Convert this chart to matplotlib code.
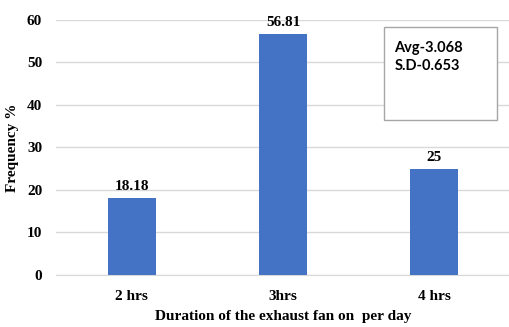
import matplotlib
matplotlib.use("Agg")
import matplotlib.pyplot as plt
from matplotlib.patches import Rectangle

categories = ["2 hrs", "3hrs", "4 hrs"]
frequency = [18.18, 56.81, 25]
value_labels = ["18.18", "56.81", "25"]
stats_lines = ["Avg-3.068", "S.D-0.653"]

serif = "Liberation Serif"
bar_color = "#4472C4"

fig = plt.figure(figsize=(5.10, 3.27), dpi=100)
ax = fig.add_axes([0.110, 0.159, 0.890, 0.780])

x = list(range(len(categories)))
ax.bar(x, frequency, width=0.316, color=bar_color, zorder=3)
for xi, v, lab in zip(x, frequency, value_labels):
    ax.text(xi, v + 1.0, lab, ha="center", va="bottom", fontsize=11,
            fontweight="bold", family=serif, zorder=4)

ax.set_xlim(-0.5, 2.5)
ax.set_ylim(0, 60)
ax.set_yticks(range(0, 61, 10))
ax.set_xticks(x)
ax.set_xticklabels(categories)
ax.grid(axis="y", color="#d9d9d9", linewidth=1, zorder=0)
for s in ["top", "right", "left"]:
    ax.spines[s].set_visible(False)
ax.spines["bottom"].set_color("#d9d9d9")
ax.tick_params(length=0)
ax.tick_params(axis="x", pad=11)
ax.tick_params(axis="y", pad=10)
for t in ax.get_xticklabels() + ax.get_yticklabels():
    t.set_family(serif)
    t.set_fontweight("bold")
    t.set_fontsize(11)

ax.set_xlabel("Duration of the exhaust fan on  per day", family=serif,
              fontweight="bold", fontsize=11, labelpad=5)
ax.set_ylabel("Frequency %", family=serif, fontweight="bold", fontsize=11,
              labelpad=6)

# stats box
box = Rectangle((1.664, 36.5), 0.75, 21.85, facecolor="white",
                edgecolor="#a6a6a6", linewidth=1, zorder=5, clip_on=False)
ax.add_patch(box)
ax.text(1.736, 55.0, "\n".join(stats_lines), ha="left", va="top",
        fontsize=10.5, fontweight="bold", family="Lato",
        linespacing=1.3, zorder=6)

fig.savefig("out.png", dpi=100)
